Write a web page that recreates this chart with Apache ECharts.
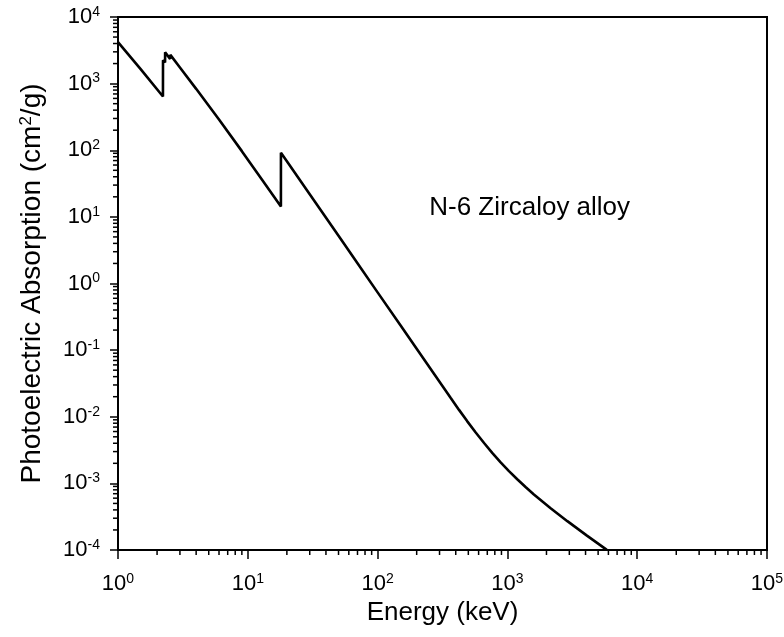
<!DOCTYPE html>
<html><head><meta charset="utf-8">
<script src="https://cdn.jsdelivr.net/npm/echarts@6/dist/echarts.min.js"></script>
<style>html,body{margin:0;padding:0;background:#fff}#c{width:784px;height:637px}</style>
</head><body><div id="c"></div>
<script>
// Data
const energy = [1, 1.5, 2.22, 2.222, 2.305, 2.307, 2.52, 2.532, 3, 4, 6, 9, 13, 17.99, 18.0, 20, 30, 50, 70, 100, 150, 200,
  271, 315, 365, 424, 491, 570, 661, 767, 887, 1028, 1191, 1380, 1600, 2153, 2897, 4074, 5728, 5848];
const absorption = [4200, 1640, 640, 2250, 2080, 2950, 2350, 2700, 1750, 835, 290, 97, 35.2, 14.3, 92, 68.4, 21.9, 5.19, 2.01, 0.736, 0.2355, 0.1047,
  0.04453, 0.02917, 0.01923, 0.01268, 0.008531, 0.005794, 0.004036, 0.002844, 0.00207, 0.001531, 0.001153, 0.000881, 0.000681, 0.000424, 0.000271, 0.000166, 0.000103, 0.0001];
const xDecades = [0, 1, 2, 3, 4, 5];
const yDecades = [-4, -3, -2, -1, 0, 1, 2, 3, 4];
const annotationText = 'N-6 Zircaloy alloy';
const annotationAt = [250, 13.5];
const xTitle = 'Energy (keV)';
const yTitle = '{t|Photoelectric Absorption (cm}{s|2}{t|/g)}';

const FONT = "'Liberation Sans', Arial, Helvetica, sans-serif";
const xMin = Math.pow(10, xDecades[0]), xMax = Math.pow(10, xDecades[xDecades.length - 1]);
const yMin = Math.pow(10, yDecades[0]), yMax = Math.pow(10, yDecades[yDecades.length - 1]);

const minorTicks = [];
for (let i = 0; i < xDecades.length - 1; i++) for (let m = 2; m <= 9; m++) minorTicks.push([m * Math.pow(10, xDecades[i]), yMin, 0]);
for (let i = 0; i < yDecades.length - 1; i++) for (let m = 2; m <= 9; m++) minorTicks.push([xMin, m * Math.pow(10, yDecades[i]), 1]);

const lineData = energy.map((e, i) => [e, absorption[i]]);

function powLabel(v) {
  return '{b|10}{s|' + Math.round(Math.log10(v)) + '}';
}
const labelRich = {
  b: { fontSize: 22, lineHeight: 24, color: '#000', fontFamily: FONT },
  s: { fontSize: 14, lineHeight: 14, color: '#000', fontFamily: FONT, verticalAlign: 'top' }
};

const chart = echarts.init(document.getElementById('c'), null, { renderer: 'canvas' });
chart.setOption({
  animation: false,
  backgroundColor: '#fff',
  grid: { left: 118, right: 17, top: 17, bottom: 87, show: true, borderColor: '#000', borderWidth: 2, containLabel: false, outerBoundsMode: 'none' },
  xAxis: {
    type: 'log', logBase: 10, min: xMin, max: xMax, splitNumber: 5,
    name: xTitle, nameLocation: 'middle', nameGap: 49,
    nameTextStyle: { fontSize: 26, color: '#000', fontFamily: FONT },
    axisLine: { show: true, onZero: false, lineStyle: { color: '#000', width: 2 } },
    axisTick: { show: true, inside: false, length: 9, lineStyle: { color: '#000', width: 1.5 } },
    axisLabel: { margin: 22, formatter: powLabel, rich: labelRich },
    splitLine: { show: false }
  },
  yAxis: {
    type: 'log', logBase: 10, min: yMin, max: yMax, splitNumber: 8,
    name: yTitle, nameLocation: 'middle', nameGap: 72, nameRotate: 90,
    nameTextStyle: { rich: {
      t: { fontSize: 28, color: '#000', fontFamily: FONT },
      s: { fontSize: 17, color: '#000', fontFamily: FONT, verticalAlign: 'top' }
    } },
    axisLine: { show: true, onZero: false, lineStyle: { color: '#000', width: 2 } },
    axisTick: { show: true, inside: false, length: 8, lineStyle: { color: '#000', width: 1.5 } },
    axisLabel: { margin: 18, formatter: powLabel, rich: labelRich },
    splitLine: { show: false }
  },
  series: [
    {
      type: 'line', data: lineData, showSymbol: false, symbol: 'none',
      lineStyle: { color: '#000', width: 2.6 }, silent: true, clip: true
    },
    {
      type: 'custom', data: minorTicks, silent: true, clip: false,
      encode: { x: 0, y: 1 },
      renderItem: function (params, api) {
        const kind = api.value(2);
        const p = api.coord([api.value(0), api.value(1)]);
        const shape = kind === 0
          ? { x1: p[0], y1: p[1], x2: p[0], y2: p[1] + 5 }
          : { x1: p[0] - 5, y1: p[1], x2: p[0], y2: p[1] };
        return { type: 'line', shape: shape, style: { stroke: '#000', lineWidth: 1.5 } };
      }
    },
    {
      type: 'scatter', data: [annotationAt], symbolSize: 0, silent: true,
      itemStyle: { opacity: 1 },
      label: { show: true, position: 'right', distance: 0, formatter: annotationText,
        fontSize: 26, color: '#000', fontFamily: FONT, opacity: 1 }
    }
  ]
});
</script>
</body></html>
